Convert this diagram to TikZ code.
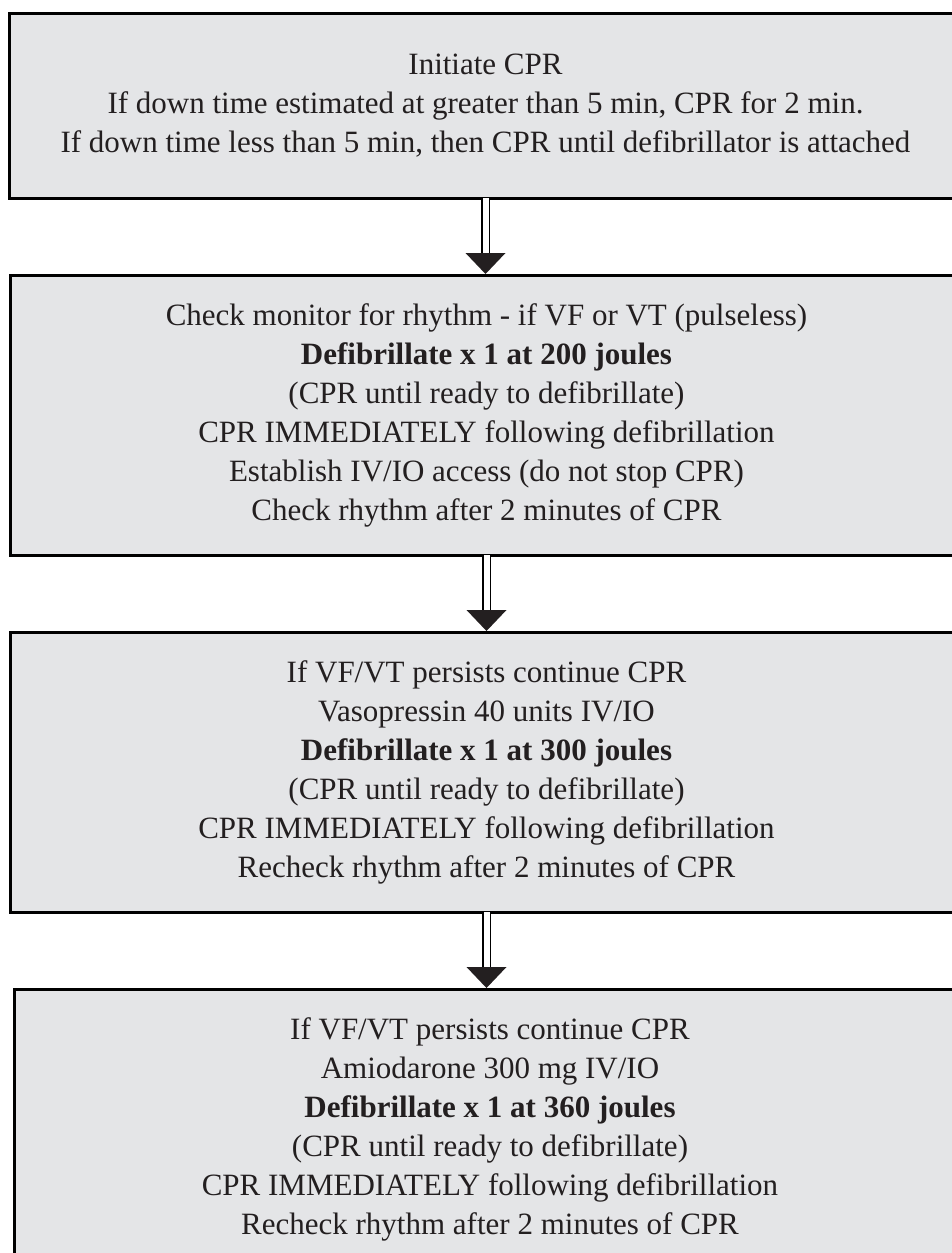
\documentclass[tikz,border=0pt]{standalone}
\usepackage{fontspec}
\setmainfont{Liberation Serif}
\begin{document}
\begin{tikzpicture}[x=1pt,y=1pt,
  stepbox/.style={draw=black, line width=3pt, fill=boxgray, inner sep=0pt, outer sep=0pt,
    minimum width=952pt, align=center, font=\fontsize{31}{39}\selectfont, text=textblack},
  shaft/.style={draw=black, line width=1.1pt, double=white, double distance=6pt},
  head/.style={fill=textblack, draw=none}]
\definecolor{boxgray}{RGB}{228,229,231}
\definecolor{textblack}{RGB}{35,31,32}
\useasboundingbox (0,0) rectangle (952,-1253);
\clip (0,0) rectangle (952,-1253);
\node[stepbox, minimum height=184.5pt] (b1) at (485.5,-105.75) {Initiate CPR\\If down time estimated at greater than 5 min, CPR for 2 min.\\If down time less than 5 min, then CPR until defibrillator is attached};
\node[stepbox, minimum height=280pt] (b2) at (486.5,-415) {Check monitor for rhythm - if VF or VT (pulseless)\\\textbf{Defibrillate x 1 at 200 joules}\\(CPR until ready to defibrillate)\\CPR IMMEDIATELY following defibrillation\\Establish IV/IO access (do not stop CPR)\\Check rhythm after 2 minutes of CPR};
\node[stepbox, minimum height=280pt] (b3) at (486.5,-772) {If VF/VT persists continue CPR\\Vasopressin 40 units IV/IO\\\textbf{Defibrillate x 1 at 300 joules}\\(CPR until ready to defibrillate)\\CPR IMMEDIATELY following defibrillation\\Recheck rhythm after 2 minutes of CPR};
\node[stepbox, minimum height=280pt] (b4) at (490,-1129) {If VF/VT persists continue CPR\\Amiodarone 300 mg IV/IO\\\textbf{Defibrillate x 1 at 360 joules}\\(CPR until ready to defibrillate)\\CPR IMMEDIATELY following defibrillation\\Recheck rhythm after 2 minutes of CPR};
\foreach \a/\b in {b1/b2,b2/b3,b3/b4}{
  \coordinate (p\b) at (\a.south |- \b.north);
  \coordinate (t\b) at ([yshift=22pt]p\b);
  \draw[shaft] (\a.south) -- (t\b);
  \path[head] ([xshift=-20pt]t\b) -- ([xshift=20pt]t\b) -- ([yshift=1pt]p\b) -- cycle;
}
\end{tikzpicture}
\end{document}
